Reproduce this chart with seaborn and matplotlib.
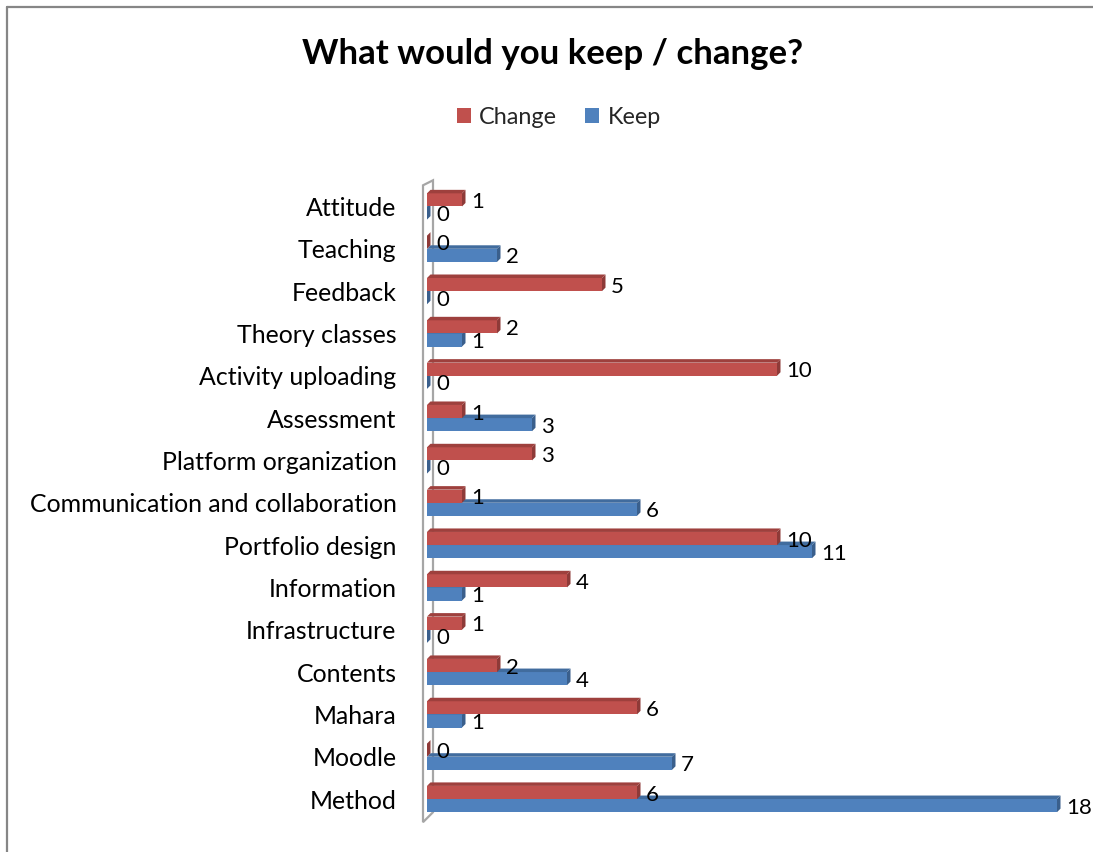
import numpy as np
import pandas as pd
import matplotlib
matplotlib.use("Agg")
import matplotlib.pyplot as plt
import seaborn as sns
from matplotlib.patches import Polygon, Patch
from matplotlib.lines import Line2D
from matplotlib.transforms import IdentityTransform

categories = ["Attitude", "Teaching", "Feedback", "Theory classes", "Activity uploading",
              "Assessment", "Platform organization", "Communication and collaboration",
              "Portfolio design", "Information", "Infrastructure", "Contents", "Mahara",
              "Moodle", "Method"]
change = [1, 0, 5, 2, 10, 1, 3, 1, 10, 4, 1, 2, 6, 0, 6]
keep = [0, 2, 0, 1, 0, 3, 0, 6, 11, 1, 0, 4, 1, 7, 18]
series = ["Change", "Keep"]
colors = ["#C0504D", "#4F81BD"]
side_colors = ["#8E3A38", "#3A5F8C"]
top_colors = ["#9E403D", "#416C9E"]

sns.set_theme(style="white")
plt.rcParams["font.family"] = ["Lato", "DejaVu Sans"]

W, H = 1093, 852
fig = plt.figure(figsize=(W / 100, H / 100), dpi=100)
ax_top, ax_bot = 185.3, 820.2
ax = fig.add_axes([427 / W, 1 - ax_bot / H, 630 / W, (ax_bot - ax_top) / H])
ax.patch.set_alpha(0)

df = pd.DataFrame({
    "Category": categories * 2,
    "Value": change + keep,
    "Series": ["Change"] * len(categories) + ["Keep"] * len(categories),
})
sns.barplot(data=df, y="Category", x="Value", hue="Series", hue_order=series,
            order=categories, palette=colors, saturation=1, width=0.62,
            orient="h", ax=ax, legend=False, errorbar=None, linewidth=0,
            edgecolor="none")

ax.set_xlim(0, 18)
ax.set_ylim(len(categories) - 0.5, -0.5)
ax.set_xlabel("")
ax.set_ylabel("")
ax.set_xticks([])
ax.tick_params(axis="y", length=0, pad=22, labelsize=17.9, labelcolor="#000000")
for s in ax.spines.values():
    s.set_visible(False)

fig.canvas.draw()
d = 3.5
for i, (cont, vals) in enumerate(zip(ax.containers, [change, keep])):
    zf = 0.9 if i == 1 else 1.2
    for bar, v in zip(cont, vals):
        bar.set_linewidth(0)
        bar.set_zorder(1.0 if i == 0 else 0.8)
        bb = bar.get_window_extent()
        x0, x1, y0, y1 = bb.x0, bb.x1, bb.y0, bb.y1
        right = Polygon([(x1, y0), (x1 + d, y0 + d), (x1 + d, y1 + d), (x1, y1)],
                        closed=True, facecolor=side_colors[i], edgecolor="none",
                        transform=IdentityTransform(), zorder=zf, clip_on=False)
        top = Polygon([(x0, y1), (x0 + d, y1 + d), (x1 + d, y1 + d), (x1, y1)],
                      closed=True, facecolor=top_colors[i], edgecolor="none",
                      transform=IdentityTransform(), zorder=zf, clip_on=False)
        ax.add_artist(right)
        ax.add_artist(top)
        yc = bar.get_y() + bar.get_height() / 2
        ax.annotate(str(v), (bar.get_width(), yc), xytext=(6.5, -1.5),
                    textcoords="offset points", ha="left", va="center",
                    fontsize=16, color="#000000", zorder=3, annotation_clip=False)

# 3D wall outline
xz = ax.transData.transform((0, 0))[0]
bbax = ax.get_window_extent()
xL, xR = xz - 4, xz + 6
wall = Polygon([(xL, bbax.y1), (xR, bbax.y1 + 5), (xR, bbax.y0 + 8), (xL, bbax.y0 - 2)],
               closed=True, fill=False, edgecolor="#A6A6A6", linewidth=1.6,
               transform=IdentityTransform(), zorder=0.5, clip_on=False)
ax.add_artist(wall)

# Title and legend
fig.text(553 / W, 1 - 54 / H, "What would you keep / change?", ha="center", va="center",
         fontsize=25, fontweight="bold", color="#000000")
handles = [Patch(facecolor=c, edgecolor="none") for c in colors]
fig.legend(handles, series, loc="center", bbox_to_anchor=(559 / W, 1 - 117 / H), ncol=2,
           frameon=False, fontsize=16.8, handlelength=0.6, handleheight=0.6,
           handletextpad=0.35, columnspacing=1.2)

# Chart frame
fig.add_artist(Line2D([7 / W, 7 / W], [0, 1 - 7 / H], transform=fig.transFigure,
                      color="#868686", linewidth=1.6))
fig.add_artist(Line2D([7 / W, 1], [1 - 7 / H, 1 - 7 / H], transform=fig.transFigure,
                      color="#868686", linewidth=1.6))

fig.savefig("out.png", dpi=100)
